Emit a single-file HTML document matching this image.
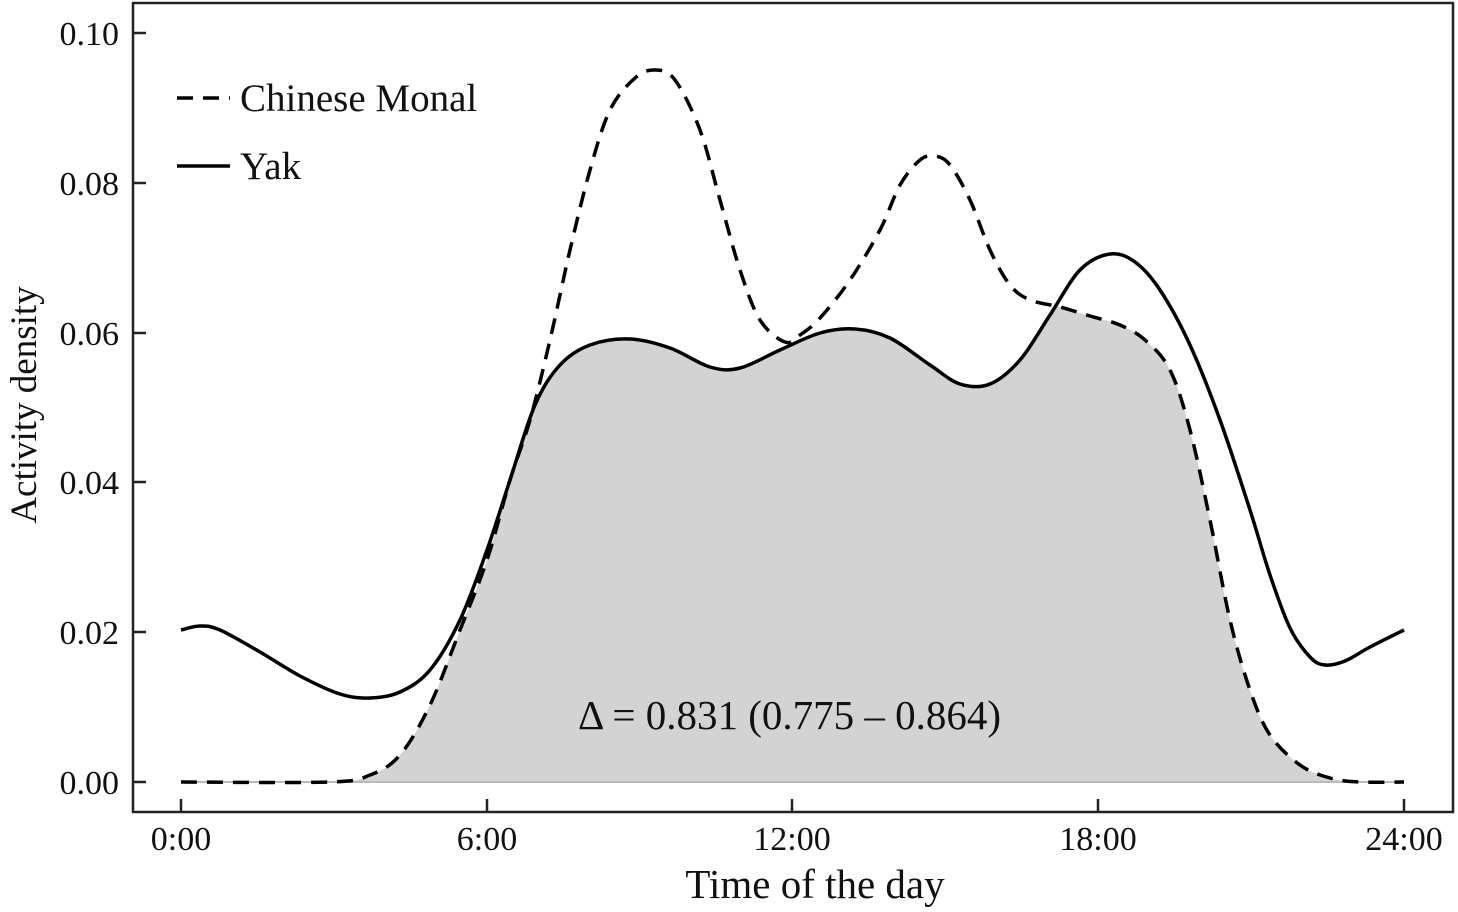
<!DOCTYPE html>
<html><head><meta charset="utf-8"><style>
html,body{margin:0;padding:0;background:#fff;}
svg{display:block;font-family:"Liberation Serif",serif;}
</style></head><body>
<svg id="s" width="1458" height="912" viewBox="0 0 1458 912">
<defs><clipPath id="cm"><path id="cmp" d=""/></clipPath></defs>
<path id="fill" d="" fill="#d3d3d3" clip-path="url(#cm)"/>
<line x1="181" y1="782" x2="1404" y2="782" stroke="#bbb" stroke-width="2"/>
<path id="yak" d="" fill="none" stroke="#000" stroke-width="3.5"/>
<path id="mon" d="" fill="none" stroke="#000" stroke-width="3.5" stroke-dasharray="16,10"/>
<rect x="133" y="3" width="1320" height="809" fill="none" stroke="#222" stroke-width="2.5"/>
<g stroke="#222" stroke-width="2.5">
<line x1="133" y1="33" x2="146" y2="33"/><line x1="133" y1="183" x2="146" y2="183"/>
<line x1="133" y1="333" x2="146" y2="333"/><line x1="133" y1="482" x2="146" y2="482"/>
<line x1="133" y1="632" x2="146" y2="632"/><line x1="133" y1="782" x2="146" y2="782"/>
<line x1="181" y1="812" x2="181" y2="799"/><line x1="487" y1="812" x2="487" y2="799"/>
<line x1="792" y1="812" x2="792" y2="799"/><line x1="1098" y1="812" x2="1098" y2="799"/>
<line x1="1404" y1="812" x2="1404" y2="799"/>
</g>
<g font-size="34" fill="#111" text-anchor="end">
<text x="119" y="45">0.10</text><text x="119" y="195">0.08</text><text x="119" y="345">0.06</text>
<text x="119" y="494">0.04</text><text x="119" y="644">0.02</text><text x="119" y="794">0.00</text>
</g>
<g font-size="34" fill="#111" text-anchor="middle">
<text x="181" y="850">0:00</text><text x="487" y="850">6:00</text><text x="792" y="850">12:00</text>
<text x="1098" y="850">18:00</text><text x="1404" y="850">24:00</text>
</g>
<text x="815" y="898" font-size="41" text-anchor="middle" fill="#111">Time of the day</text>
<text transform="translate(36,405) rotate(-90)" font-size="37" text-anchor="middle" fill="#111">Activity density</text>
<line x1="177" y1="98" x2="230" y2="98" stroke="#000" stroke-width="3.5" stroke-dasharray="16,10"/>
<text x="240" y="111" font-size="39" fill="#111">Chinese Monal</text>
<line x1="177" y1="166" x2="230" y2="166" stroke="#000" stroke-width="3.5"/>
<text x="240" y="179" font-size="39" fill="#111">Yak</text>
<text x="578" y="729" font-size="41" fill="#111">Δ = 0.831 (0.775 – 0.864)</text>
</svg>
<script>
var yak=[[181,630],[200,626],[220,630],[260,652],[300,676],[340,694],[370,698],[400,692],[430,670],[460,620],[487,550],[510,480],[535,405],[560,365],[590,345],[630,339],[670,348],[710,367],[740,368],[780,350],[820,333],[855,329],[890,338],[930,365],[960,384],[990,384],[1020,360],[1050,315],[1080,270],[1110,254],[1135,262],[1160,290],[1190,345],[1220,420],[1250,510],[1270,575],[1290,628],[1310,657],[1325,665],[1345,661],[1370,647],[1404,630]];
var mon=[[181,782],[330,782],[370,775],[400,755],[430,705],[460,630],[487,560],[510,480],[530,420],[550,340],[570,250],[590,170],[610,110],[635,78],[655,70],[675,80],[700,130],[720,200],[740,270],[760,320],[785,342],[800,335],[820,318],[850,280],[880,230],[900,185],[920,160],[935,156],[950,165],[970,200],[990,250],[1010,285],[1030,300],[1060,307],[1090,316],[1120,325],[1145,340],[1170,370],[1190,430],[1210,520],[1230,620],[1250,690],[1270,735],[1300,765],[1330,778],[1360,782],[1404,782]];
function cr(p){var d="M"+p[0][0]+","+p[0][1];for(var i=0;i<p.length-1;i++){var p0=p[i-1]||p[i],p1=p[i],p2=p[i+1],p3=p[i+2]||p2;
d+=" C"+(p1[0]+(p2[0]-p0[0])/6)+","+(p1[1]+(p2[1]-p0[1])/6)+" "+(p2[0]-(p3[0]-p1[0])/6)+","+(p2[1]-(p3[1]-p1[1])/6)+" "+p2[0]+","+p2[1];}return d;}
var dy=cr(yak),dm=cr(mon);
document.getElementById("yak").setAttribute("d",dy);
document.getElementById("mon").setAttribute("d",dm);
document.getElementById("fill").setAttribute("d",dy+" L1404,782 L181,782 Z");
document.getElementById("cmp").setAttribute("d",dm+" L1404,782 L181,782 Z");
</script>
</body></html>
